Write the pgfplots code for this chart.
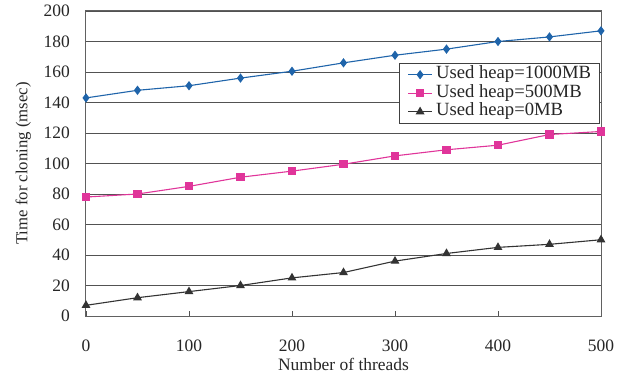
\documentclass[border=0pt]{standalone}
\usepackage{fontspec}
\setmainfont{Liberation Serif}
\usepackage{pgfplots}
\pgfplotsset{compat=1.18}
\definecolor{cblue}{HTML}{1F64AA}
\definecolor{cpink}{HTML}{E0359A}
\definecolor{cblack}{HTML}{333333}
\begin{document}
\begin{tikzpicture}[x=1bp,y=1bp]
\useasboundingbox (-86bp,-65bp) rectangle (540bp,316bp);
\begin{axis}[
  at={(0,0)}, anchor=south west,
  scale only axis,
  width=515bp, height=305bp,
  xmin=0, xmax=500, ymin=0, ymax=200,
  xtick={0,100,...,500}, ytick={0,20,...,200},
  ymajorgrids, major grid style={draw=black!68, line width=0.9bp},
  axis line style={draw=black!62, line width=1bp},
  major tick length=5bp,
  xtick style={draw=black!68, line width=0.9bp},
  ytick style={draw=none},
  xtick pos=bottom, xtick align=inside,
  xticklabel style={font=\fontsize{17.5}{19}\selectfont, inner sep=0pt, anchor=base, yshift=-35bp, text=black!85},
  yticklabel style={font=\fontsize{17.5}{19}\selectfont, inner sep=0pt, anchor=east, xshift=-16bp, text=black!85},
  /pgf/number format/assume math mode=true,
  xlabel={Number of threads}, ylabel={Time for cloning (msec)},
  xlabel style={font=\fontsize{17.5}{19}\selectfont, at={(axis description cs:0.5,-0.16)}, anchor=center, inner sep=0pt, text=black!85},
  ylabel style={font=\fontsize{16.8}{19}\selectfont, at={(axis description cs:-0.122,0.5)}, anchor=center, rotate=0, inner sep=0pt, text=black!85},
  legend style={at={(0.998,0.8295)}, anchor=north east, draw=black!75, line width=0.9bp,
    font=\fontsize{18.7}{19}\selectfont, text=black!85, inner xsep=8bp, inner ysep=2bp, row sep=0pt,
    nodes={inner sep=0.5bp, text height=13bp, text depth=4.5bp},
    /tikz/every odd column/.append style={column sep=3bp},
    legend cell align=left},
  legend image code/.code={\draw[mark repeat=2,mark phase=2] plot coordinates {(0bp,0bp)(12bp,0bp)(24bp,0bp)};},
]
\addplot[cblue, line width=1.1bp, mark=diamond*, mark size=3.8bp, mark options={solid, fill=cblue}] coordinates {
(0,143) (50,148) (100,151) (150,156) (200,160.5) (250,166) (300,171) (350,175) (400,180) (450,183) (500,187)};
\addlegendentry{Used heap=1000MB}
\addplot[cpink, line width=1.1bp, mark=square*, mark size=3.5bp, mark options={solid, fill=cpink}] coordinates {
(0,78) (50,80) (100,85) (150,91) (200,95) (250,99.5) (300,105) (350,109) (400,112) (450,119) (500,121)};
\addlegendentry{Used heap=500MB}
\addplot[cblack, line width=1.1bp, mark=triangle*, mark size=4bp, mark options={solid, fill=cblack}] coordinates {
(0,7) (50,12) (100,16) (150,20) (200,25) (250,28.5) (300,36) (350,41) (400,45) (450,47) (500,50)};
\addlegendentry{Used heap=0MB}
\end{axis}
\end{tikzpicture}
\end{document}
